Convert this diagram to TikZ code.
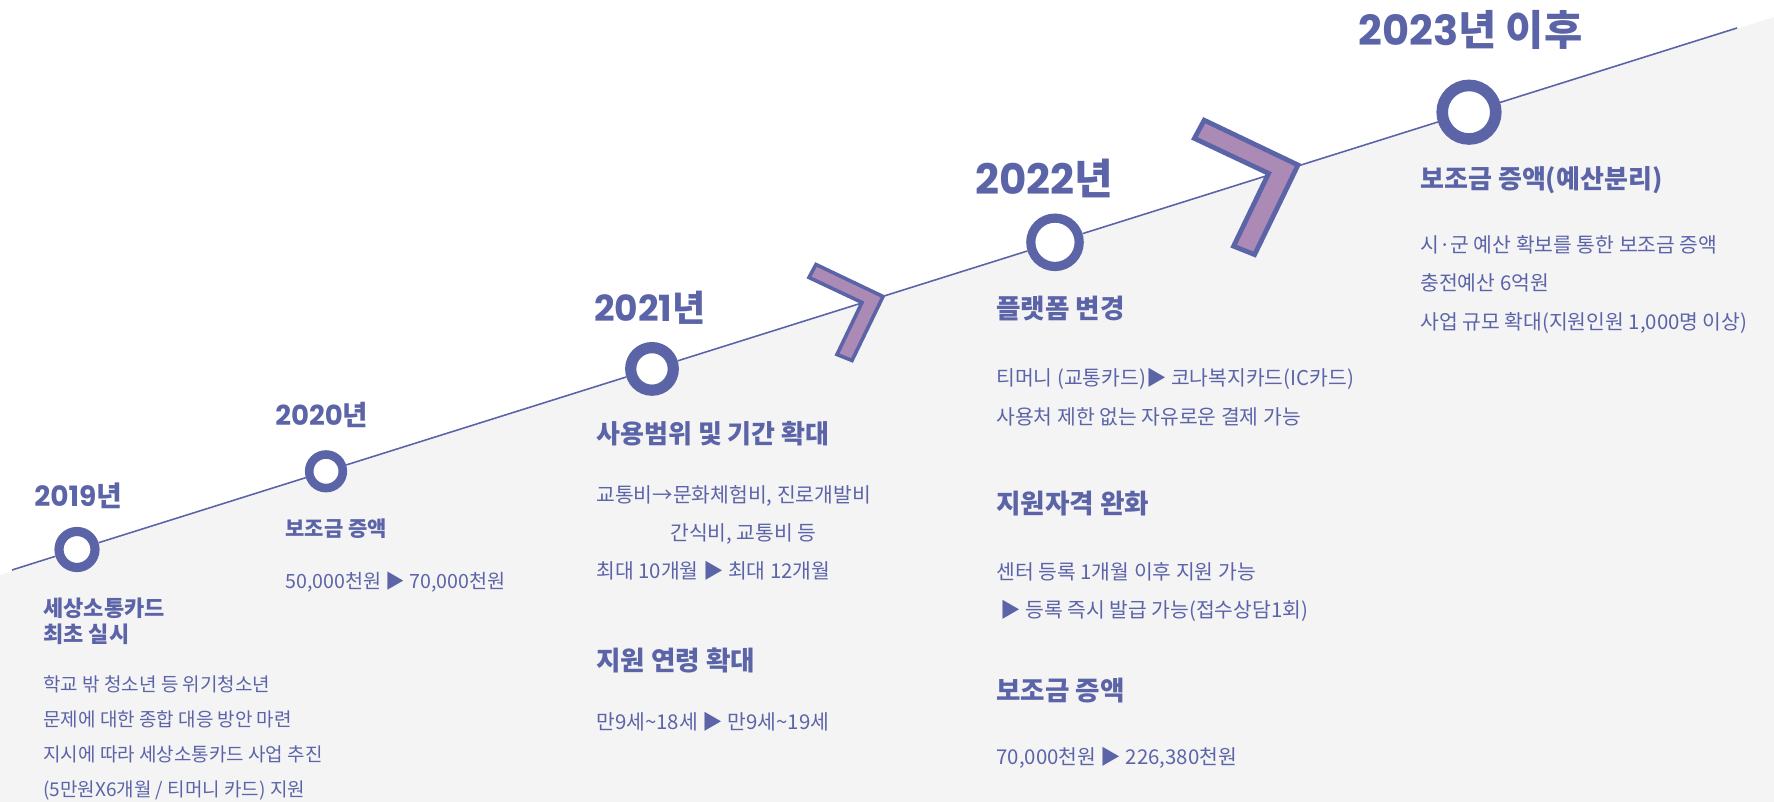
\documentclass[tikz,border=0pt]{standalone}
\usepackage{fontspec}
\setmainfont{Noto Sans CJK KR}
\newfontfamily\yearfont{Poppins}
\usetikzlibrary{calc}
\definecolor{tlblue}{HTML}{5C64A8}
\definecolor{tlmauve}{HTML}{AB8AB6}
\definecolor{tlgrey}{HTML}{F4F4F5}
\tikzset{
	yearlabel/.style={anchor=west, inner sep=0pt, text=tlblue,
		font=\yearfont\bfseries\fontsize{#1}{#1}\selectfont},
	headline/.style 2 args={anchor=north west, inner sep=0pt, align=left, text=tlblue,
		font=\bfseries\fontsize{#1}{#2}\selectfont},
	bodytext/.style 2 args={anchor=north west, inner sep=0pt, align=left, text=tlblue,
		font=\fontsize{#1}{#2}\selectfont},
	milestone/.style 2 args={circle, draw=tlblue, fill=white, inner sep=0pt,
		minimum size=#1, line width=#2},
	chevron/.pic={
		\filldraw[draw=tlblue, fill=tlmauve, line join=miter]
		(0,0) -- (-67,-32) -- (-74,-19) -- (-21,6) -- (-46,58) -- (-31,64) -- cycle;
	}
}
\begin{document}
\begin{tikzpicture}[x=0.5pt, y=-0.5pt]
	\useasboundingbox (0,0) rectangle (1774,802);
	\fill[tlgrey] (0,575) -- (1774,17) -- (1774,802) -- (0,802) -- cycle;
	% time line
	\coordinate (lstart) at (12,570);
	\coordinate (lend) at (1737,28);
	\node[milestone={18pt}{4.6pt}] (c2019) at (77,549.5) {};
	\node[milestone={16.8pt}{4.3pt}] (c2020) at (326,471.3) {};
	\node[milestone={21.3pt}{5.6pt}] (c2021) at (652,368.9) {};
	\node[milestone={24.2pt}{4.6pt}] (c2022) at (1055,242.3) {};
	\node[milestone={26.8pt}{5.8pt}] (c2023) at (1469,112.2) {};
	\draw[tlblue, line width=0.8pt]
	(lstart) -- (c2019) -- (c2020) -- (c2021) -- (c2022) -- (c2023) -- (lend);
	\pic[line width=1.8pt] at (883,296.5) {chevron};
	\pic[scale=1.4, line width=2.4pt] at (1298,165) {chevron};
	% years
	\node[yearlabel=14] (y2019) at (34,496) {2019{\rmfamily 년}};
	\node[yearlabel=13.8] (y2020) at (275,415) {2020{\rmfamily 년}};
	\node[yearlabel=18] (y2021) at (594,308) {2021{\rmfamily 년}};
	\node[yearlabel=21] (y2022) at (975,178) {2022{\rmfamily 년}};
	\node[yearlabel=20.8] (y2023) at (1358,30) {2023{\rmfamily 년 이후}};
	% 2019
	\node[headline={11}{13}] (h2019) at (43,598) {세상소통카드\\최초 실시};
	\node[bodytext={9.5}{17.5}] (b2019) at (43,675.5) {학교 밖 청소년 등 위기청소년\\문제에 대한 종합 대응 방안 마련\\지시에 따라 세상소통카드 사업 추진\\(5만원X6개월 / 티머니 카드) 지원};
	% 2020
	\node[headline={10.5}{13}] (h2020) at (285,518.5) {보조금 증액};
	\node[bodytext={9.8}{19}] (b2020) at (285,571.5) {50,000천원 ▶ 70,000천원};
	% 2021
	\node[headline={13}{16}] (h2021a) at (596,421) {사용범위 및 기간 확대};
	\node[bodytext={10.2}{19}] (b2021a) at (596,485) {교통비→문화체험비, 진로개발비\\\hspace*{37pt}간식비, 교통비 등\\최대 10개월 ▶ 최대 12개월};
	\node[headline={13.3}{16}] (h2021b) at (596,647.5) {지원 연령 확대};
	\node[bodytext={10.2}{19}] (b2021b) at (596,712) {만9세\textasciitilde18세 ▶ 만9세\textasciitilde19세};
	% 2022
	\node[headline={13.3}{16}] (h2022a) at (996,295.5) {플랫폼 변경};
	\node[bodytext={10.2}{19.5}] (b2022a) at (996,368) {티머니 (교통카드)▶ 코나복지카드(IC카드)\\사용처 제한 없는 자유로운 결제 가능};
	\node[headline={13.3}{16}] (h2022b) at (996,490.5) {지원자격 완화};
	\node[bodytext={10.2}{19}] (b2022b) at (996,562) {센터 등록 1개월 이후 지원 가능\\\hspace*{2pt}▶ 등록 즉시 발급 가능(접수상담1회)};
	\node[headline={13.3}{16}] (h2022c) at (996,677.5) {보조금 증액};
	\node[bodytext={10.2}{19}] (b2022c) at (996,747) {70,000천원 ▶ 226,380천원};
	% 2023
	\node[headline={13}{16}] (h2023) at (1420,166) {보조금 증액(예산분리)};
	\node[bodytext={10.2}{19.25}] (b2023) at (1420,235) {시·군 예산 확보를 통한 보조금 증액\\충전예산 6억원\\사업 규모 확대(지원인원 1,000명 이상)};
\end{tikzpicture}
\end{document}
